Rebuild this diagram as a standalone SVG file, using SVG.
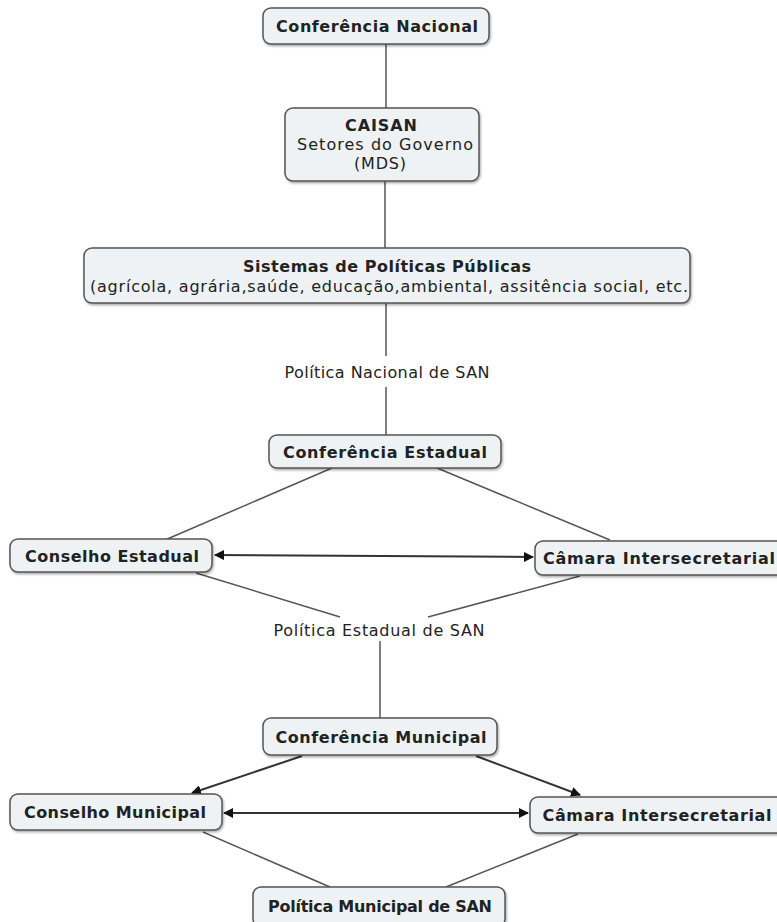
<svg xmlns="http://www.w3.org/2000/svg" width="777" height="922" viewBox="0 0 777 922">
<defs>
<style>
.box{fill:#eef2f5;stroke:#555;stroke-width:1.5}
.t{font-family:"DejaVu Sans",Verdana,sans-serif;font-size:16px;fill:#222;text-anchor:middle}
.b{font-weight:bold}
.ln{stroke:#555;stroke-width:1.5;fill:none}
.ar{stroke:#333;stroke-width:2;fill:none}
</style>
<filter id="sh" x="-5%" y="-10%" width="110%" height="130%">
<feDropShadow dx="1" dy="1.5" stdDeviation="1" flood-color="#000" flood-opacity="0.35"/>
</filter>
<marker id="ah" markerWidth="10" markerHeight="10" refX="9" refY="5" orient="auto-start-reverse" markerUnits="userSpaceOnUse">
<path d="M0,0 L10,5 L0,10 z" fill="#111"/>
</marker>
</defs>
<rect width="777" height="922" fill="#fff"/>
<g id="connectors">
<line class="ln" x1="386" y1="44" x2="386" y2="108"/>
<line class="ln" x1="385" y1="181" x2="385" y2="248"/>
<line class="ln" x1="386" y1="303" x2="386" y2="356"/>
<line class="ln" x1="386" y1="387" x2="386" y2="435"/>
<line class="ln" x1="332" y1="468" x2="165" y2="540"/>
<line class="ln" x1="437" y1="468" x2="610" y2="540"/>
<line class="ar" x1="215" y1="555" x2="533" y2="557" marker-start="url(#ah)" marker-end="url(#ah)"/>
<line class="ln" x1="196" y1="573" x2="340" y2="617"/>
<line class="ln" x1="580" y1="576" x2="428" y2="617"/>
<line class="ln" x1="380" y1="641" x2="380" y2="718"/>
<line class="ar" x1="302" y1="756" x2="192" y2="793" marker-end="url(#ah)"/>
<line class="ar" x1="476" y1="756" x2="580" y2="795" marker-end="url(#ah)"/>
<line class="ar" x1="224" y1="813" x2="528" y2="813" marker-start="url(#ah)" marker-end="url(#ah)"/>
<line class="ln" x1="203" y1="832" x2="330" y2="887"/>
<line class="ln" x1="578" y1="834" x2="446" y2="887"/>
</g>
<g id="conf-nacional">
<rect class="box" x="263" y="8" width="226" height="36" rx="8" filter="url(#sh)"/>
<text class="t b" x="377" y="32" textLength="202">Conferência Nacional</text>
</g>
<g id="caisan">
<rect class="box" x="285" y="108" width="194" height="73" rx="8" filter="url(#sh)"/>
<text class="t b" x="381" y="131" textLength="72">CAISAN</text>
<text class="t" x="385" y="150" textLength="176">Setores do Governo</text>
<text class="t" x="380" y="169" textLength="52">(MDS)</text>
</g>
<g id="sistemas">
<rect class="box" x="84" y="248" width="606" height="55" rx="8" filter="url(#sh)"/>
<text class="t b" x="387" y="272" textLength="288">Sistemas de Políticas Públicas</text>
<text class="t" x="389" y="292" textLength="598">(agrícola, agrária,saúde, educação,ambiental, assitência social, etc.</text>
</g>
<g id="pol-nacional">
<text class="t" x="387" y="378" textLength="205">Política Nacional de SAN</text>
</g>
<g id="conf-estadual">
<rect class="box" x="269" y="435" width="232" height="33" rx="8" filter="url(#sh)"/>
<text class="t b" x="385" y="458" textLength="204">Conferência Estadual</text>
</g>
<g id="conselho-estadual">
<rect class="box" x="10" y="539" width="202" height="33" rx="8" filter="url(#sh)"/>
<text class="t b" x="112" y="562" textLength="174">Conselho Estadual</text>
</g>
<g id="camara-estadual">
<rect class="box" x="535" y="541" width="250" height="34" rx="8" filter="url(#sh)"/>
<text class="t b" x="659" y="564" textLength="232">Câmara Intersecretarial</text>
</g>
<g id="pol-estadual">
<text class="t" x="379" y="636" textLength="211">Política Estadual de SAN</text>
</g>
<g id="conf-municipal">
<rect class="box" x="263" y="718" width="234" height="37" rx="8" filter="url(#sh)"/>
<text class="t b" x="381" y="743" textLength="211">Conferência Municipal</text>
</g>
<g id="conselho-municipal">
<rect class="box" x="10" y="794" width="212" height="36" rx="8" filter="url(#sh)"/>
<text class="t b" x="115" y="818" textLength="182">Conselho Municipal</text>
</g>
<g id="camara-municipal">
<rect class="box" x="530" y="797" width="255" height="36" rx="8" filter="url(#sh)"/>
<text class="t b" x="657" y="821" textLength="229">Câmara Intersecretarial</text>
</g>
<g id="pol-municipal">
<rect class="box" x="253" y="887" width="252" height="40" rx="8" filter="url(#sh)"/>
<text class="t b" x="380" y="912" textLength="224">Política Municipal de SAN</text>
</g>
</svg>
